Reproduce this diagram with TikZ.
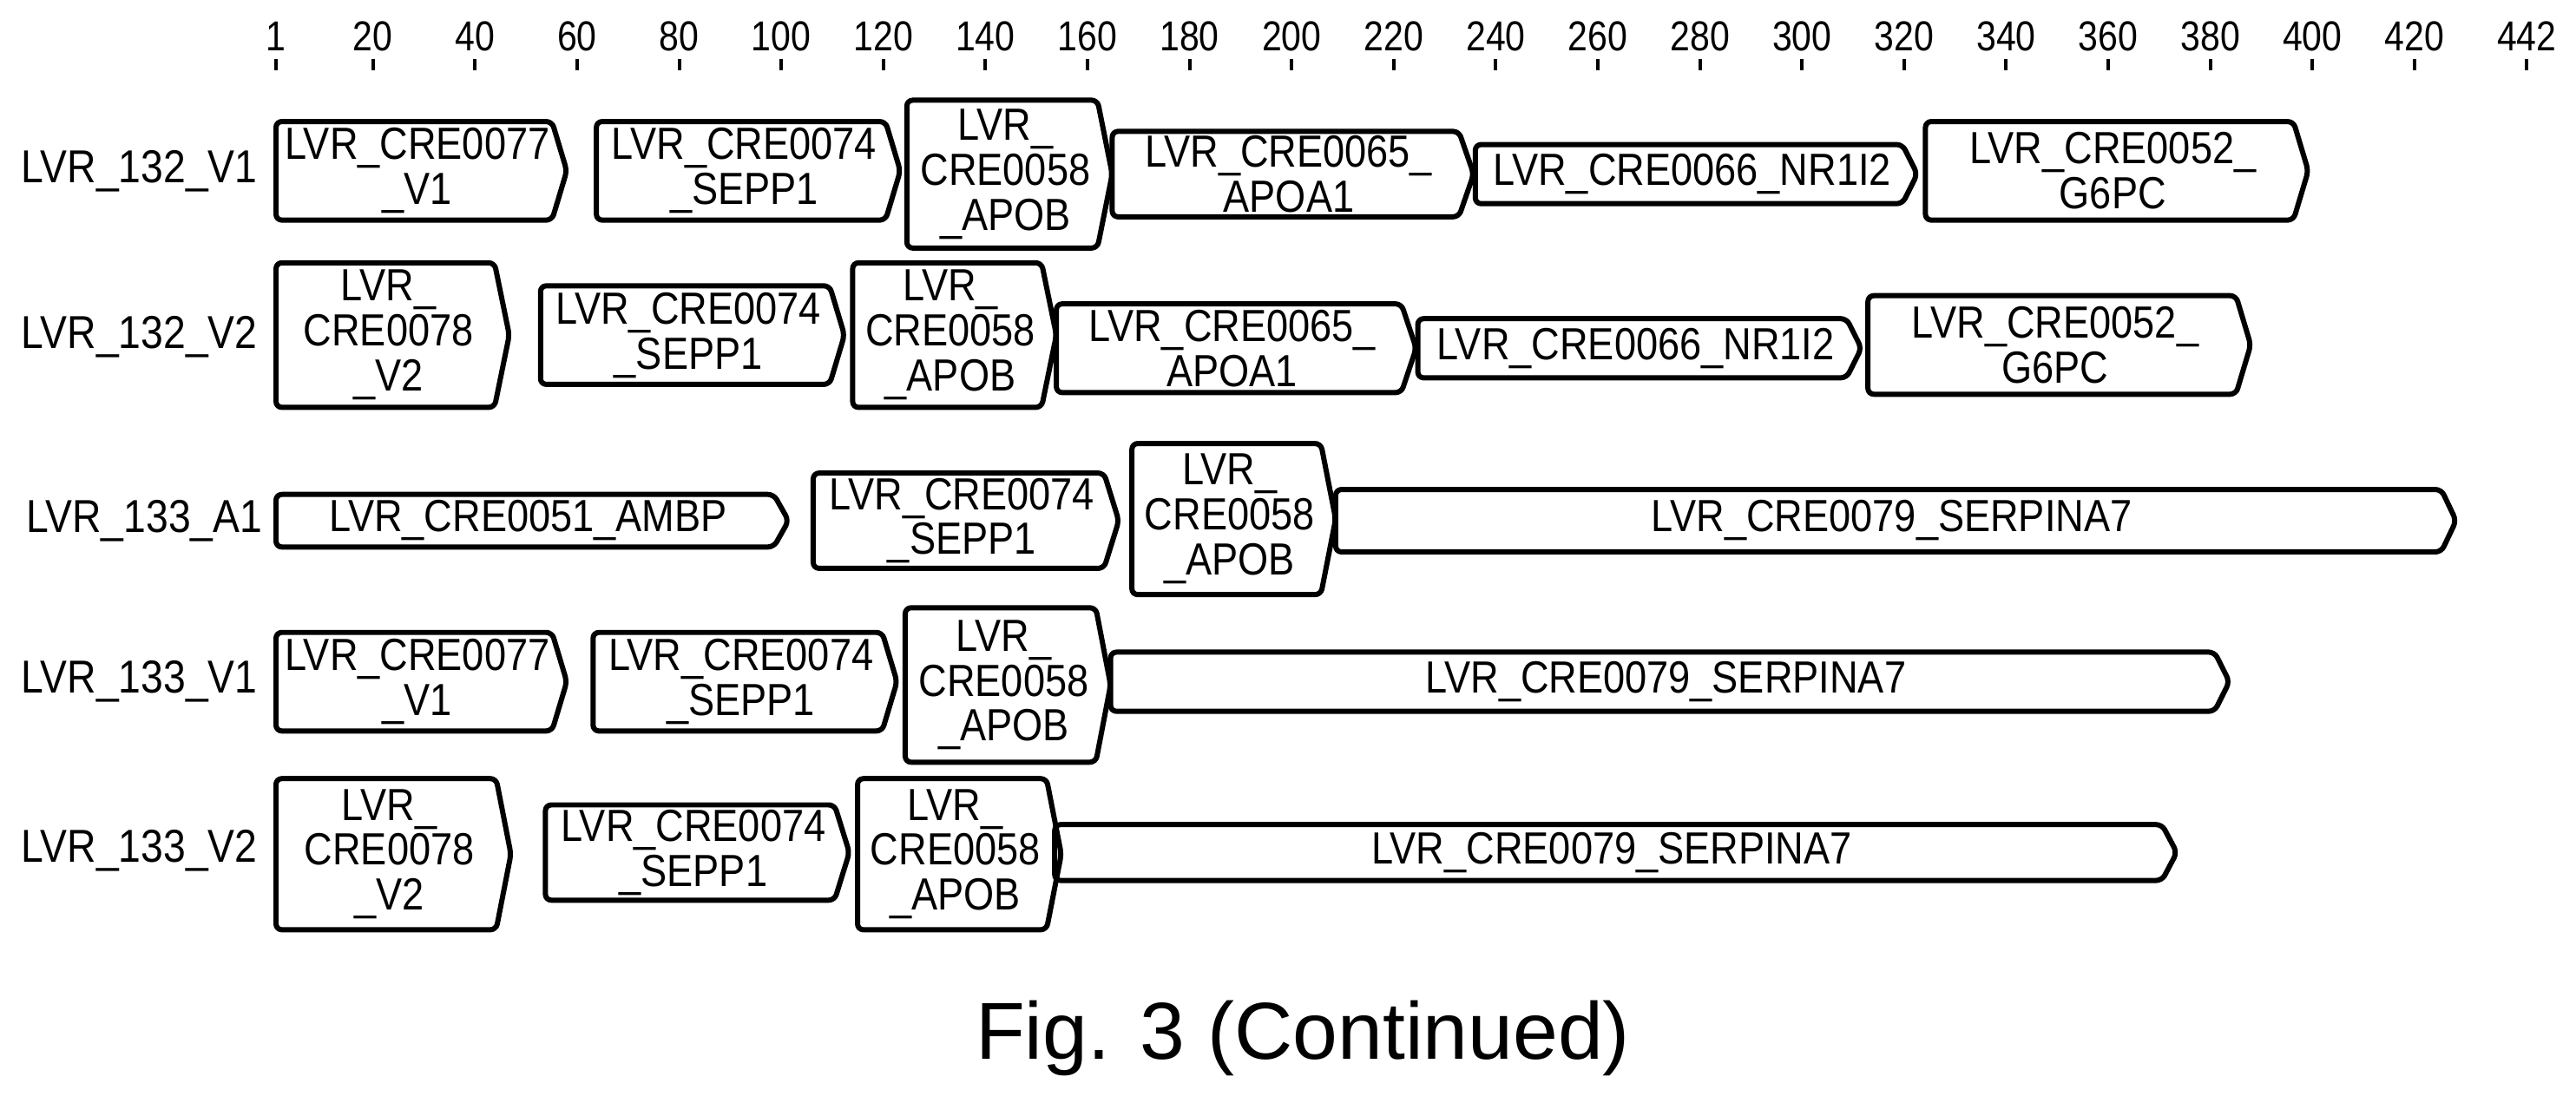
\documentclass[tikz,border=0pt]{standalone}
\usepackage{fontspec}
\setmainfont{Liberation Sans}
\newcommand{\creblock}[6]{%
  \pgfmathsetmacro\ytop{#4-#5/2}\pgfmathsetmacro\ybot{#4+#5/2}\pgfmathsetmacro\xneck{#3-9}
  \draw[block] (#2,\ytop) -- (\xneck,\ytop) -- (#3,#4) -- (\xneck,\ybot) -- (#2,\ybot) -- cycle;
  \node[cre] (#1) at ({(#2+#3-5)/2},#4) {#6};}
\begin{document}
\begin{tikzpicture}[x=0.02cm, y=-0.02cm,
    block/.style = {line width=1.8pt, rounded corners=2pt, line join=round},
    cre/.style = {align=center, inner sep=0pt, xscale=0.87, font=\fontsize{15.6}{15.6}\selectfont},
    row/.style = {anchor=east, inner sep=0pt, xscale=0.87, font=\fontsize{16}{16}\selectfont},
    tick/.style = {inner sep=0pt, xscale=0.85, font=\fontsize{14.5}{16}\selectfont}]
  \useasboundingbox (0,0) rectangle (1568,671);

  % position scale
  \foreach \n in {1,20,40,...,420,442} {
    \pgfmathsetmacro\tx{168+(\n-1)*3.1066}
    \node[tick] (t\n) at (\tx,22) {\n};
    \draw[line width=1.2pt] (\tx,36) -- (\tx,43);
  }

  % row labels
  \node[row] (l1) at (157,104) {LVR\_132\_V1};
  \node[row] (l2) at (157,205) {LVR\_132\_V2};
  \node[row] (l3) at (160,317) {LVR\_133\_A1};
  \node[row] (l4) at (157,415) {LVR\_133\_V1};
  \node[row] (l5) at (157,518) {LVR\_133\_V2};

  % LVR_132_V1
  \creblock{a1}{168}{345}{104}{60}{LVR\_CRE0077\\\_V1}
  \creblock{a2}{363}{548}{104}{60}{LVR\_CRE0074\\\_SEPP1}
  \creblock{a3}{552}{677}{106}{90}{LVR\_\\CRE0058\\\_APOB}
  \creblock{a4}{677}{897}{106}{52}{LVR\_CRE0065\_\\APOA1}
  \creblock{a5}{898}{1167}{106}{36}{LVR\_CRE0066\_NR1I2}
  \creblock{a6}{1172}{1405}{104}{60}{LVR\_CRE0052\_\\G6PC}

  % LVR_132_V2
  \creblock{b1}{168}{310}{204}{88}{LVR\_\\CRE0078\\\_V2}
  \creblock{b2}{329}{514}{204}{60}{LVR\_CRE0074\\\_SEPP1}
  \creblock{b3}{519}{643}{204}{88}{LVR\_\\CRE0058\\\_APOB}
  \creblock{b4}{643}{862}{212}{54}{LVR\_CRE0065\_\\APOA1}
  \creblock{b5}{863}{1133}{212}{36}{LVR\_CRE0066\_NR1I2}
  \creblock{b6}{1137}{1370}{210}{60}{LVR\_CRE0052\_\\G6PC}

  % LVR_133_A1
  \creblock{c1}{168}{480}{317}{32}{LVR\_CRE0051\_AMBP}
  \creblock{c2}{495}{681}{317}{58}{LVR\_CRE0074\\\_SEPP1}
  \creblock{c3}{689}{813}{316}{92}{LVR\_\\CRE0058\\\_APOB}
  \creblock{c4}{813}{1495}{317}{38}{LVR\_CRE0079\_SERPINA7}

  % LVR_133_V1
  \creblock{d1}{168}{345}{415}{60}{LVR\_CRE0077\\\_V1}
  \creblock{d2}{361}{546}{415}{60}{LVR\_CRE0074\\\_SEPP1}
  \creblock{d3}{551}{676}{417}{94}{LVR\_\\CRE0058\\\_APOB}
  \creblock{d4}{676}{1357}{415}{36}{LVR\_CRE0079\_SERPINA7}

  % LVR_133_V2
  \creblock{e1}{168}{311}{520}{92}{LVR\_\\CRE0078\\\_V2}
  \creblock{e2}{332}{517}{519}{58}{LVR\_CRE0074\\\_SEPP1}
  \creblock{e3}{522}{646}{520}{92}{LVR\_\\CRE0058\\\_APOB}
  \creblock{e4}{642}{1325}{519}{34}{LVR\_CRE0079\_SERPINA7}

  \node[font=\fontsize{28}{32}\selectfont] (title) at (793,632) {Fig. 3 (Continued)};
\end{tikzpicture}
\end{document}
